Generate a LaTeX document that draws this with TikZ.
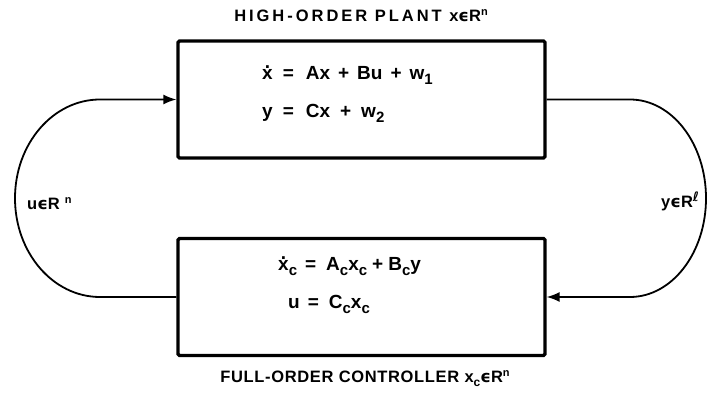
\documentclass[tikz,border=0pt]{standalone}
\usepackage{fontspec}
\setmainfont{Liberation Sans}
\newfontfamily\symf{DejaVu Sans Bold}
\newfontfamily\labfa{Liberation Sans Bold}[LetterSpace=18]
\newfontfamily\labfb{Liberation Sans Bold}[LetterSpace=4]
\usetikzlibrary{arrows.meta}
\newcommand\eqsub[1]{\raisebox{-5pt}{\fontsize{15}{15}\selectfont #1}}
\newcommand\ttsub[1]{\raisebox{-4pt}{\fontsize{12}{12}\selectfont #1}}
\newcommand\supn[1]{\raisebox{6.5pt}{\fontsize{11}{11}\selectfont #1}}
\newcommand\epsin{{\symf ϵ}}
\newcommand\xdt{\ooalign{x\cr\hidewidth\raisebox{11pt}{.}\hidewidth\cr}}
\tikzset{
  blockbox/.style={draw, line width=3.2pt, rounded corners=1.5pt, minimum width=367pt, minimum height=117pt, inner sep=0pt},
  conn/.style={line width=1.8pt},
  tip/.style={-{Latex[length=13pt,width=10pt]}},
  eqtext/.style={anchor=base west, inner sep=0pt, font=\fontsize{19}{21}\selectfont\bfseries},
  ttltext/.style={anchor=base, inner sep=0pt, font=\fontsize{16.5}{18}\selectfont\labfa},
  ttltextb/.style={anchor=base, inner sep=0pt, font=\fontsize{16.5}{18}\selectfont\labfb},
}
\begin{document}
\begin{tikzpicture}[x=1pt,y=1pt]
\useasboundingbox (0,0) rectangle (708,398);
\node[blockbox] (plant) at (361.5,298.5) {};
\node[blockbox] (ctrl) at (361.5,101) {};
% titles
\node[ttltext] (ptitle) at (361,376) {HIGH-ORDER PLANT x\epsin R\supn{n}};
\node[ttltextb] (ctitle) at (365,15) {FULL-ORDER CONTROLLER x\ttsub{c}\epsin R\supn{n}};
% equations
\node[eqtext] (pe1) at (262,318) {\xdt\hspace{10pt}=\hspace{12pt}Ax\hspace{8pt}+\hspace{8pt}Bu\hspace{8pt}+\hspace{8pt}w\eqsub{1}};
\node[eqtext] (pe2) at (262,280) {y\hspace{10pt}=\hspace{12pt}Cx\hspace{10pt}+\hspace{10pt}w\eqsub{2}};
\node[eqtext] (ce1) at (278,127) {\xdt\eqsub{c}\hspace{8pt}=\hspace{10pt}A\eqsub{c}x\eqsub{c}\hspace{5pt}+\hspace{5pt}B\eqsub{c}y};
\node[eqtext] (ce2) at (288,89) {u\hspace{8pt}=\hspace{10pt}C\eqsub{c}x\eqsub{c}};
% connectors
\coordinate (lt) at (100,298.5);
\coordinate (lb) at (100,101);
\coordinate (rt) at (630,298.5);
\coordinate (rb) at (630,101);
\draw[conn,tip] (ctrl.west) -- (lb) arc[start angle=270, end angle=90, x radius=85, y radius=98.75] -- (plant.west);
\draw[conn,tip] (plant.east) -- (rt) arc[start angle=90, end angle=-90, x radius=76, y radius=98.75] -- (ctrl.east);
% labels
\node[ttltext, anchor=base west] (ulab) at (27,188) {u\epsin R\hspace{5pt}\supn{n}};
\node[ttltext, anchor=base west] (ylab) at (661,190) {y\epsin R\supn{{\symf\fontsize{13}{13}\selectfont ℓ}}};
\end{tikzpicture}
\end{document}
